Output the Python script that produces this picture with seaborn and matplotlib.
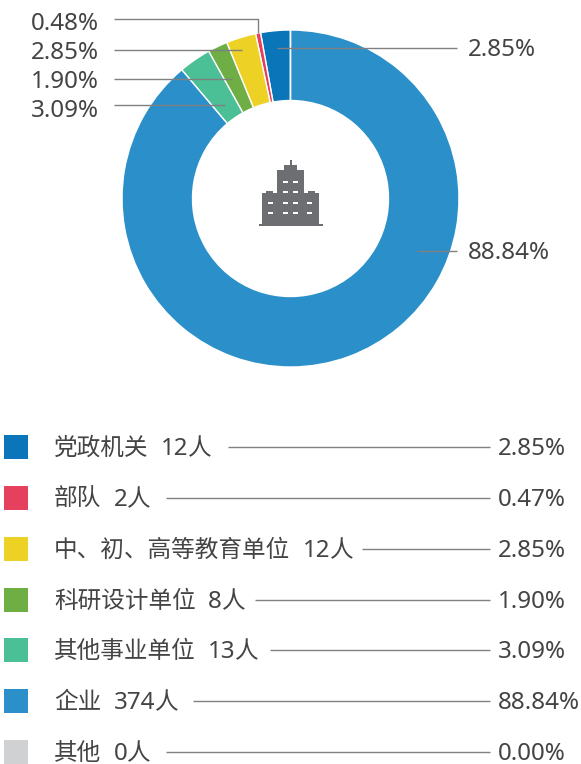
import matplotlib
matplotlib.use("Agg")
import matplotlib.pyplot as plt
from matplotlib.patches import Rectangle
import seaborn as sns

categories = ["党政机关", "部队", "中、初、高等教育单位", "科研设计单位", "其他事业单位", "企业", "其他"]
counts = [12, 2, 12, 8, 13, 374, 0]
legend_pcts = ["2.85%", "0.47%", "2.85%", "1.90%", "3.09%", "88.84%", "0.00%"]
colors = ["#0a75b8", "#e6405f", "#edd125", "#6eae44", "#4bbf96", "#2b90c9", "#d0d1d3"]

sns.set_theme(style="white")
plt.rcParams["font.family"] = ["Noto Sans CJK SC", "DejaVu Sans"]
TXT = "#444444"
LINE = "#808080"
LATIN = ["Noto Sans", "DejaVu Sans"]
W, H = 581, 764

fig = plt.figure(figsize=(W / 100, H / 100), dpi=100)
ax = fig.add_axes([0, 0, 1, 1])
Y = lambda y: H - y

# donut
ax.pie(counts, colors=colors, startangle=90, counterclock=True, center=(290.5, Y(198.5)),
       radius=168.5, wedgeprops=dict(width=70.5, edgecolor="white", linewidth=1), frame=True)
ax.set_xlim(0, W)
ax.set_ylim(0, H)
ax.set_aspect("equal")
ax.axis("off")

# callouts on the donut
calls = [("0.48%", 31, 22, [(114, 19), (258, 19), (258, 33)]),
         ("2.85%", 31, 51, [(114, 50), (242, 50)]),
         ("1.90%", 31, 80, [(114, 79), (232, 79)]),
         ("3.09%", 31, 109, [(114, 105), (225, 105)]),
         ("2.85%", 468, 48, [(277, 48), (457, 48)]),
         ("88.84%", 468, 251, [(417, 251), (457, 251)])]
for label, tx, ty, pts in calls:
    ax.plot([p[0] for p in pts], [Y(p[1]) for p in pts], color=LINE, lw=1, solid_capstyle="butt", zorder=5)
    ax.text(tx, Y(ty + 8), label, family=LATIN, fontsize=17.4, color=TXT, va="baseline", ha="left")

# building icon
icon = "#6d6e71"
for x0, y0, x1, y1 in [(277, 170, 304, 225), (262, 193, 319, 224), (284, 165, 297, 172),
                       (289.5, 160, 291.5, 166), (259, 223.5, 323, 225.5),
                       (266, 191, 273, 194), (308, 191, 315, 194)]:
    ax.add_patch(Rectangle((x0, Y(y1)), x1 - x0, y1 - y0, fc=icon, ec="none", zorder=6))
for wx, wy in [(283, 182), (293, 182), (283, 192), (293, 192), (283, 203), (293, 203),
               (268, 203), (307, 203), (268, 213), (283, 213), (293, 213), (307, 213)]:
    ax.add_patch(Rectangle((wx, Y(wy + 1)), 5, 2, fc="white", ec="none", zorder=7))

# legend rows
row_y = [447, 498, 549, 600, 650, 701, 752]
line_x0 = [228, 166, 362, 255, 270, 193, 166]
renderer = fig.canvas.get_renderer()
for cat, n, pct, c, y, x0 in zip(categories, counts, legend_pcts, colors, row_y, line_x0):
    ax.add_patch(Rectangle((4, Y(y + 12)), 24, 24, fc=c, ec="none"))
    base = Y(y + 8)
    t = ax.text(54, base, cat, fontsize=17.0, color=TXT, va="baseline", ha="left")
    x = t.get_window_extent(renderer).x1 + 12.5
    t = ax.text(x, base, str(n), family=LATIN, fontsize=17.4, color=TXT, va="baseline", ha="left")
    x = t.get_window_extent(renderer).x1 - 0.5
    ax.text(x, base, "人", fontsize=17.0, color=TXT, va="baseline", ha="left")
    ax.plot([x0, 490], [Y(y), Y(y)], color=LINE, lw=1, solid_capstyle="butt")
    ax.text(498, base, pct, family=LATIN, fontsize=17.4, color=TXT, va="baseline", ha="left")

fig.savefig("out.png", dpi=100, facecolor="white")
